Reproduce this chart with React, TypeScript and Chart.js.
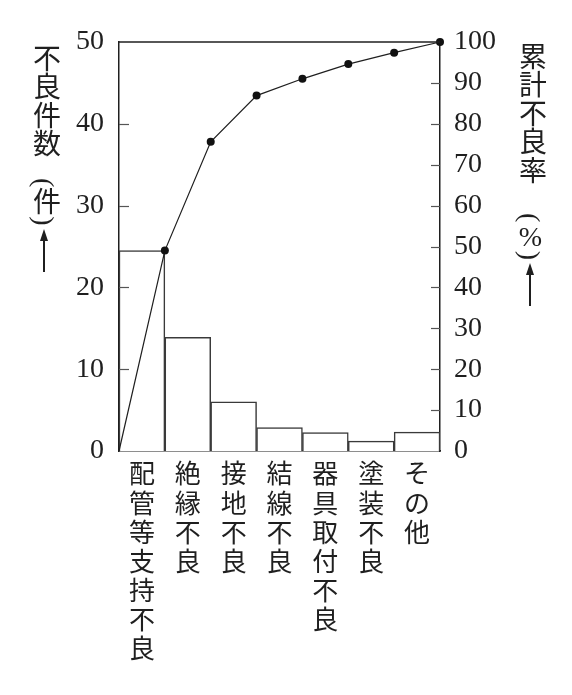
import { useEffect, useRef } from 'react';
import { Chart, registerables } from 'chart.js';

Chart.register(...registerables);

// 不良項目
const categories = ['配管等支持不良', '絶縁不良', '接地不良', '結線不良', '器具取付不良', '塗装不良', 'その他'];
// 不良件数（件）
const counts = [24.5, 13.9, 6.0, 2.85, 2.25, 1.2, 2.3];
// 累計不良率（%）: 0 at the left edge, then the right edge of each bar
const cumulative = [0, 49, 75.6, 86.9, 91, 94.6, 97.4, 100];
const countTicks = [0, 10, 20, 30, 40, 50];
const rateTicks = [0, 10, 20, 30, 40, 50, 60, 70, 80, 90, 100];

const INK = '#1f1f1f';

// tick marks drawn inside the plot, plus the top frame line
const frame = {
  id: 'frame',
  afterDraw(chart: any) {
    const { ctx, chartArea, scales } = chart;
    ctx.save();
    ctx.lineWidth = 1.2;
    ctx.strokeStyle = '#555';
    countTicks.slice(1, -1).forEach((v) => {
      const y = Math.round(scales.y.getPixelForValue(v)) + 0.5;
      ctx.beginPath();
      ctx.moveTo(chartArea.left, y);
      ctx.lineTo(chartArea.left + 10, y);
      ctx.stroke();
    });
    rateTicks.slice(1, -1).forEach((v) => {
      const y = Math.round(scales.yR.getPixelForValue(v)) + 0.5;
      ctx.beginPath();
      ctx.moveTo(chartArea.right - 9, y);
      ctx.lineTo(chartArea.right, y);
      ctx.stroke();
    });
    ctx.strokeStyle = INK;
    ctx.lineWidth = 1.5;
    ctx.beginPath();
    ctx.moveTo(chartArea.left, chartArea.top);
    ctx.lineTo(chartArea.right, chartArea.top);
    ctx.stroke();
    ctx.restore();
  },
};

function Arrow() {
  return (
    <div style={{ display: 'flex', flexDirection: 'column', alignItems: 'center', width: 30 }}>
      <div style={{ width: 0, height: 0, borderLeft: '4px solid transparent', borderRight: '4px solid transparent', borderBottom: `12px solid ${INK}` }} />
      <div style={{ width: 2, height: 31, background: INK }} />
    </div>
  );
}

const titleFont = "'Liberation Serif', 'Noto Sans CJK JP', serif";

function VTitle({ left, top, main, unit, gap }: { left: number; top: number; main: string; unit: any; gap: number }) {
  const col: any = {
    writingMode: 'vertical-rl',
    fontFamily: titleFont,
    fontSize: 28,
    lineHeight: '30px',
    width: 30,
    color: INK,
    letterSpacing: 0.5,
  };
  return (
    <div style={{ position: 'absolute', left, top, display: 'flex', flexDirection: 'column', alignItems: 'center' }}>
      <div style={col}>{main}</div>
      <div style={{ ...col, marginTop: gap }}>{unit}</div>
      <div style={{ marginTop: 3 }}>
        <Arrow />
      </div>
    </div>
  );
}

export default function App() {
  const chartRef = useRef<HTMLCanvasElement>(null);

  useEffect(() => {
    if (!chartRef.current) return;
    const chart = new Chart(chartRef.current, {
      type: 'bar',
      data: {
        labels: categories.map((c) => Array.from(c)),
        datasets: [
          {
            type: 'line',
            label: '累計不良率',
            data: cumulative.map((v, i) => ({ x: i, y: v })),
            xAxisID: 'x2',
            yAxisID: 'yR',
            borderColor: INK,
            borderWidth: 1.2,
            pointRadius: cumulative.map((_, i) => (i === 0 ? 0 : 4)),
            pointBackgroundColor: '#111',
            pointBorderWidth: 0,
            clip: false,
            order: 0,
          } as any,
          {
            type: 'bar',
            label: '不良件数',
            data: counts,
            xAxisID: 'x',
            yAxisID: 'y',
            backgroundColor: '#ffffff',
            borderColor: '#3a3a3a',
            borderWidth: 1.5,
            barPercentage: 1,
            categoryPercentage: 1,
            grouped: false,
            order: 1,
          },
        ],
      },
      options: {
        responsive: true,
        maintainAspectRatio: false,
        animation: false,
        layout: { padding: { top: 42, left: 0, right: 0, bottom: 0 } },
        plugins: { legend: { display: false }, tooltip: { enabled: false } },
        scales: {
          x: {
            type: 'category',
            grid: { display: false, drawTicks: false },
            border: { display: true, color: INK, width: 1.5 },
            ticks: {
              color: INK,
              padding: 8,
              autoSkip: false,
              maxRotation: 0,
              font: { family: "'Noto Sans CJK JP', sans-serif", size: 26, lineHeight: 1.12 },
            },
            afterFit: (s: any) => { s.height = 244; },
          },
          x2: { type: 'linear', display: false, offset: false, min: 0, max: 7 },
          y: {
            position: 'left',
            min: 0,
            max: 50,
            grid: { display: false, drawTicks: false },
            border: { display: true, color: INK, width: 1.5 },
            ticks: {
              stepSize: 10,
              color: INK,
              padding: 15,
              font: { family: "'Liberation Serif', serif", size: 28 },
            },
            afterFit: (s: any) => { s.width = 119; },
          },
          yR: {
            position: 'right',
            min: 0,
            max: 100,
            grid: { display: false, drawTicks: false },
            border: { display: true, color: INK, width: 1.5 },
            ticks: {
              stepSize: 10,
              color: INK,
              padding: 14,
              font: { family: "'Liberation Serif', serif", size: 28 },
            },
            afterFit: (s: any) => { s.width = 132; },
          },
        },
      },
      plugins: [frame],
    });
    return () => chart.destroy();
  }, []);

  return (
    <div style={{ position: 'absolute', left: 0, top: 0, width: 572, height: 695, background: '#fff' }}>
      <canvas ref={chartRef} />
      <VTitle left={29} top={44} main="不良件数" unit="(件)" gap={20} />
      <VTitle
        left={515}
        top={42}
        main="累計不良率"
        unit={<>(<span style={{ textCombineUpright: 'all' } as any}>%</span>)</>}
        gap={28}
      />
    </div>
  );
}
